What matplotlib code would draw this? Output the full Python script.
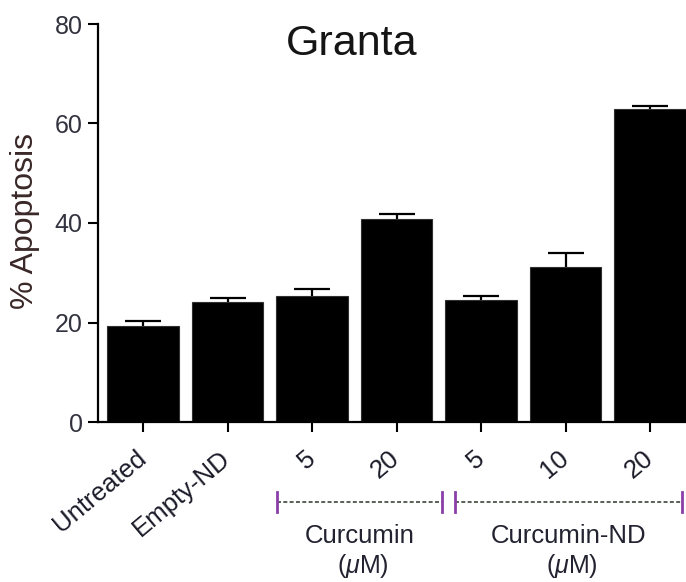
import numpy as np
import matplotlib
matplotlib.use("Agg")
import matplotlib.pyplot as plt
import matplotlib.transforms as mtransforms

plt.rcParams['font.family'] = ['Liberation Sans', 'DejaVu Sans']
plt.rcParams['mathtext.fontset'] = 'custom'
plt.rcParams['mathtext.rm'] = 'Liberation Sans'
plt.rcParams['mathtext.it'] = 'Liberation Sans:italic'

# --- data ---
tick_labels = ["Untreated", "Empty-ND", "5", "20", "5", "10", "20"]
apoptosis = [19.3, 24.1, 25.3, 40.8, 24.5, 31.2, 62.9]
sem = [1.1, 0.8, 1.5, 1.1, 0.8, 2.7, 0.6]
groups = ["Curcumin", "Curcumin-ND"]
group_spans = [(1.59, 3.54), (3.69, 6.38)]  # bracket extent in bar units
yticks = [0, 20, 40, 60, 80]

TXT = "#33333f"

W, H = 686, 582
fig = plt.figure(figsize=(W / 100, H / 100), dpi=100)
ax = fig.add_axes([98 / W, 1 - 422 / H, 588 / W, 398 / H])

x = np.arange(len(apoptosis))
ax.bar(x, apoptosis, width=0.85, color="black", edgecolor="#303030", linewidth=0.8, zorder=2)
# symmetric bars drawn underneath: the lower half is hidden by the bar
ax.errorbar(x, apoptosis, yerr=sem, fmt="none", ecolor="black",
            elinewidth=1.6, capsize=13, capthick=1.6, zorder=1)

ax.set_xlim(-0.533, 6.425)
ax.set_ylim(0, 80)
ax.set_yticks(yticks)
ax.set_yticklabels([str(v) for v in yticks], color=TXT, fontsize=18)
ax.set_xticks(x)
ax.set_xticklabels(tick_labels, rotation=40, ha="right", va="center",
                   rotation_mode="anchor", color="#1a1a28", fontsize=18.5)
ax.tick_params(axis="y", length=7, width=1.5, pad=4)
ax.tick_params(axis="x", length=7, width=1.5, pad=17)
for s in ["top", "right"]:
    ax.spines[s].set_visible(False)
for s in ["left", "bottom"]:
    ax.spines[s].set_linewidth(1.6)

fig.text(352 / W, 1 - 44 / H, "Granta", fontsize=31, ha="center", va="center", color="#151515")
fig.text(25 / W, 1 - 221 / H, "% Apoptosis", fontsize=23, rotation=90,
         ha="center", va="center", color="#3a2828")

# group brackets below the tick labels
trans = mtransforms.blended_transform_factory(ax.transData, fig.transFigure)
yb = 1 - 502 / H
for name, (lo, hi) in zip(groups, group_spans):
    ax.plot([lo, hi], [yb, yb], transform=trans, clip_on=False, color="#4a5648",
            lw=1.3, dashes=(2.2, 1.3))
    for xe in (lo, hi):
        ax.plot([xe, xe], [1 - 492 / H, 1 - 512 / H], transform=trans, clip_on=False,
                color="#8a3fa8", lw=2)
    xc = (lo + hi) / 2
    ax.text(xc, 1 - 536 / H, name, transform=trans, ha="center", va="center",
            fontsize=18.5, color="#222230")
    ax.text(xc + 0.04, 1 - 566 / H, r"($\mu$M)", transform=trans, ha="center", va="center",
            fontsize=18, color="#222230")

fig.savefig("out.png", dpi=100)
